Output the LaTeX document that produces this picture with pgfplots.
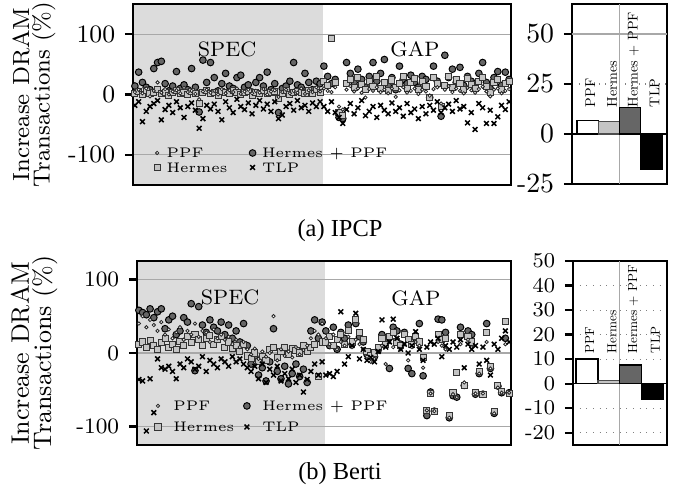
\documentclass[border=0pt]{standalone}
\usepackage{fontspec}
\newfontfamily\capfont{Liberation Serif}
\usepackage{pgfplots}
\usepackage{pgfplotstable}
\pgfplotsset{compat=1.18}

\definecolor{shade}{HTML}{DCDCDC}
\definecolor{hpfill}{HTML}{666666}
\definecolor{herfill}{HTML}{C4C4C4}
\definecolor{gridc}{HTML}{A8A8A8}

% IPCP: one row per benchmark, SPEC below x=50.3, GAP above
\pgfplotstableread{
x ppf her hp tlp
0.5 4 2 14 -18
1.5 8 5 37 -12
2.5 2 0 20 -45
3.5 10 6 12 -28
4.5 -3 1 8 -20
5.5 6 3 43 -15
6.5 20 8 53 -10
7.5 3 2 55 -42
8.5 9 4 18 -25
9.5 0 -2 6 -18
10.5 5 3 14 -30
11.5 7 6 38 -12
12.5 2 1 10 -22
13.5 11 4 16 -38
14.5 4 0 8 -20
15.5 6 5 43 -14
16.5 1 2 12 -26
17.5 -8 -15 -29 -56
18.5 5 3 57 -40
19.5 8 6 20 -18
20.5 3 2 53 -24
21.5 6 4 28 -16
22.5 0 -1 6 -28
23.5 9 5 18 -42
24.5 2 3 35 -12
25.5 7 1 14 -22
26.5 4 6 10 -30
27.5 10 4 28 -8
28.5 1 0 32 -20
29.5 5 3 12 -25
30.5 8 5 16 -14
31.5 2 -2 4 -32
32.5 6 4 20 -18
33.5 3 2 28 -10
34.5 9 6 14 -24
35.5 0 1 37 -16
36.5 5 3 8 -28
37.5 7 5 18 -12
38.5 -4 -6 -30 -40
39.5 4 2 10 -34
40.5 8 6 14 -20
41.5 2 0 22 -15
42.5 6 4 53 -26
43.5 3 5 16 -10
44.5 10 3 12 -22
45.5 1 2 35 -18
46.5 7 6 20 -28
47.5 4 1 8 -14
48.5 12 8 22 -20
49.5 5 3 18 -12
50.5 10 22 47 -20
51.5 6 15 30 -28
52.5 4 93 18 -12
53.5 12 20 25 -30
54.5 -20 -30 -38 -38
55.5 -25 -35 -40 -48
56.5 8 18 53 -25
57.5 14 25 35 -15
58.5 5 12 20 -32
59.5 10 28 42 -22
60.5 3 16 25 -10
61.5 -5 8 12 -35
62.5 9 22 30 -28
63.5 6 14 53 -20
64.5 12 30 22 -38
65.5 4 10 35 -18
66.5 8 20 58 -26
67.5 2 6 15 -32
68.5 10 24 28 -14
69.5 -4 12 8 -28
70.5 7 18 47 -22
71.5 12 30 25 -36
72.5 3 10 18 -15
73.5 6 20 32 -30
74.5 10 26 20 -24
75.5 1 8 12 -40
76.5 8 22 30 -20
77.5 5 14 25 -32
78.5 -2 -5 -5 -18
79.5 9 28 47 -26
80.5 12 18 22 -12
81.5 -15 -20 -36 -30
82.5 8 15 65 -22
83.5 14 30 28 -16
84.5 4 12 42 -28
85.5 10 24 20 -10
86.5 6 18 45 -24
87.5 2 8 15 -20
88.5 11 26 30 -47
89.5 7 16 22 -30
90.5 3 10 18 -58
91.5 9 22 35 -15
92.5 13 28 53 -22
93.5 5 14 20 -48
94.5 -3 4 10 -26
95.5 8 20 28 -48
96.5 10 25 38 -37
97.5 2 8 15 -18
98.5 6 18 37 -25
99.5 9 22 25 -12
}\ipcp

% Berti
\pgfplotstableread{
x ppf her hp tlp
0.5 40 12 58 -36
1.5 50 15 55 -38
2.5 35 8 52 -106
3.5 45 17 60 -35
4.5 38 10 48 -81
5.5 30 5 56 -8
6.5 42 14 60 -20
7.5 25 20 33 -22
8.5 32 8 45 -18
9.5 20 12 50 -25
10.5 28 5 25 -35
11.5 35 16 30 -15
12.5 18 10 48 -20
13.5 30 22 42 -8
14.5 25 14 67 -12
15.5 40 25 -24 -22
16.5 22 18 63 -18
17.5 30 10 38 -5
18.5 28 20 28 -25
19.5 15 24 45 -10
20.5 32 12 35 -15
21.5 20 18 30 -20
22.5 25 22 42 -8
23.5 18 8 25 -12
24.5 22 15 38 -18
25.5 12 6 20 -5
26.5 18 10 30 -12
27.5 8 2 15 -8
28.5 15 12 40 -15
29.5 5 -4 10 -20
30.5 -2 -8 -15 -25
31.5 6 0 -5 -18
32.5 -8 -12 -30 -35
33.5 2 -5 -20 -15
34.5 -5 -10 -38 -40
35.5 0 5 -12 -22
36.5 50 8 33 -30
37.5 -10 -6 -25 -18
38.5 5 2 -35 -38
39.5 -4 8 -18 -28
40.5 2 -2 -42 -35
41.5 -6 6 -28 -22
42.5 8 4 -15 -40
43.5 -2 0 -32 -30
44.5 4 10 -22 -53
45.5 10 2 -40 -36
46.5 20 8 30 -25
47.5 30 12 45 -15
48.5 25 -32 20 -30
49.5 40 15 42 -12
50.5 20 15 30 -30
51.5 12 22 10 -28
52.5 25 10 35 -32
53.5 5 18 5 -25
54.5 15 25 28 56
55.5 10 12 20 -15
56.5 22 30 38 -5
57.5 8 15 12 10
58.5 18 45 40 54
59.5 12 28 22 -8
60.5 5 18 15 5
61.5 -5 2 -2 -10
62.5 -12 -4 0 -6
63.5 -8 0 -5 -12
64.5 2 8 4 2
65.5 10 20 25 45
66.5 -15 12 18 8
67.5 15 22 -21 15
68.5 8 28 35 46
69.5 20 15 30 20
70.5 5 10 12 5
71.5 12 25 28 12
72.5 -10 18 -21 0
73.5 8 12 -28 10
74.5 15 22 20 29
75.5 10 15 40 5
76.5 -20 -6 -31 -10
77.5 -78 -78 -85 8
78.5 -55 -55 -53 15
79.5 -79 -80 -79 12
80.5 15 25 46 20
81.5 10 18 45 -5
82.5 5 20 28 10
83.5 -88 -85 -88 5
84.5 -56 -54 -58 15
85.5 -60 -27 -60 8
86.5 12 25 35 18
87.5 -40 -44 -44 -20
88.5 18 22 30 12
89.5 8 15 25 5
90.5 -55 -54 -56 10
91.5 -28 -25 -28 -15
92.5 -55 -56 -56 8
93.5 15 28 40 -10
94.5 -21 -18 -21 -30
95.5 -82 -80 -82 12
96.5 -47 -44 -45 5
97.5 -54 -52 -54 20
98.5 12 43 20 30
99.5 -54 -55 -54 15
}\berti

\tikzset{barlab/.style={rotate=90, scale=#1, transform shape,
    anchor=west, inner sep=0pt, font=\fontsize{10}{12}\selectfont}}

\pgfplotsset{
  ppfm/.style={only marks, mark=*, mark size=0.6pt,
    mark options={fill=white, draw=black!85, line width=0.3pt}},
  herm/.style={only marks, mark=square*, mark size=1.1pt,
    mark options={fill=herfill, draw=black!80, line width=0.35pt}},
  hpm/.style={only marks, mark=*, mark size=1.2pt,
    mark options={fill=hpfill, draw=black, line width=0.35pt}},
  tlpm/.style={only marks, mark=x, mark size=1.2pt,
    mark options={draw=black, line width=0.55pt}},
  limg/.style={legend image code/.code={
      \path[draw=none, fill=none] (0pt,0pt) (#1,0pt);
      \draw[##1] plot coordinates {(#1/2,0pt)};}},
  frame/.style={scale only axis, anchor=north west,
    axis line style={line width=0.8pt},
    tick align=outside, ytick pos=left, xtick=\empty,
    major tick length=2.9pt, tick style={line width=0.8pt, black}},
  scat/.style={frame, xmin=0, xmax=100,
    ytick={-100,0,100}, yticklabels={-100,0,100},
    ymajorgrids, major grid style={gridc, line width=0.4pt},
    axis on top, legend columns=2, legend cell align=left},
}

\begin{document}
\begin{tikzpicture}
\useasboundingbox (0,0) rectangle (244.08pt,-179.28pt);

% ---- (a) IPCP scatter
\begin{axis}[scat, limg=5pt, at={({133*0.36pt},{-4*0.36pt})},
  width=136.08pt, height=65.16pt, ymin=-150, ymax=150,
  yticklabel style={font=\fontsize{9}{9}\selectfont},
  ylabel={Increase DRAM\\Transactions (\%)},
  ylabel style={align=center, font=\fontsize{8.4}{7.4}\selectfont,
    at={(axis description cs:-0.262,0.5)}, anchor=center},
  legend style={at={(axis description cs:0,0)}, anchor=south west,
    xshift=6pt, yshift=3.5pt, draw=none, fill=none, inner sep=0pt,
    font=\fontsize{5}{5.5}\selectfont,
    nodes={inner sep=0.9pt, text depth=0pt},
    /tikz/every even column/.append style={column sep=5.6pt}}]
\addplot[fill=shade, draw=none, forget plot]
  coordinates {(0,-150) (50.3,-150) (50.3,150) (0,150)};
\addplot[hpm, forget plot] table[x=x, y=hp] {\ipcp};
\addplot[herm, forget plot] table[x=x, y=her] {\ipcp};
\addplot[ppfm, forget plot] table[x=x, y=ppf] {\ipcp};
\addplot[tlpm, forget plot] table[x=x, y=tlp] {\ipcp};
\addlegendimage{ppfm}\addlegendentry{PPF}
\addlegendimage{hpm}\addlegendentry{Hermes + PPF}
\addlegendimage{herm}\addlegendentry{Hermes}
\addlegendimage{tlpm}\addlegendentry{TLP}
\node[font=\fontsize{7.5}{8}\selectfont] at (axis cs:24.9,75) {SPEC};
\node[font=\fontsize{7.5}{8}\selectfont] at (axis cs:74.6,75) {GAP};
\end{axis}

% ---- (a) IPCP bars
\begin{axis}[frame, at={({572*0.36pt},{-4*0.36pt})},
  width=34.2pt, height=64.8pt,
  xmin=-0.738, xmax=3.738, ymin=-25, ymax=65,
  ytick={-25,0,25}, yticklabels={-25,0,25},
  extra y ticks={50}, extra y tick labels={50},
  yticklabel style={font=\fontsize{10}{10}\selectfont},
  ymajorgrids, major grid style={dotted, gray, line width=0.4pt},
  extra y tick style={major grid style={solid, gridc, line width=0.4pt}}]
\addplot[gridc, line width=0.4pt, forget plot] coordinates {(1.5,-30) (1.5,70)};
\addplot[black, line width=0.6pt, forget plot] coordinates {(-1,0) (5,0)};
\addplot[ybar, bar width=1, bar shift=0pt, fill=white, draw=black, line width=0.5pt]
  coordinates {(0,6.7)};
\addplot[ybar, bar width=1, bar shift=0pt, fill=herfill, draw=black!70, line width=0.5pt]
  coordinates {(1,6.2)};
\addplot[ybar, bar width=1, bar shift=0pt, fill=hpfill, draw=black, line width=0.5pt]
  coordinates {(2,13.3)};
\addplot[ybar, bar width=1, bar shift=0pt, fill=black, draw=black, line width=0.5pt]
  coordinates {(3,-17.5)};
\node[barlab=0.51] at (axis cs:0.12,13.3) {PPF};
\node[barlab=0.51] at (axis cs:1.15,13.3) {Hermes};
\node[barlab=0.51] at (axis cs:2.15,13.3) {Hermes + PPF};
\node[barlab=0.51] at (axis cs:3.15,13.3) {TLP};
\end{axis}

\node[font=\capfont\fontsize{8.8}{10}\selectfont] at ({340*0.36pt},{-231*0.36pt}) {(a) IPCP};

% ---- (b) Berti scatter
\begin{axis}[scat, limg=6.9pt, at={({137*0.36pt},{-261*0.36pt})},
  width=134.64pt, height=66.24pt, ymin=-125, ymax=125,
  yticklabel style={font=\fontsize{7.9}{8}\selectfont},
  ylabel={Increase DRAM\\Transactions (\%)},
  ylabel style={align=center, font=\fontsize{9.1}{8}\selectfont,
    at={(axis description cs:-0.275,0.5)}, anchor=center},
  legend style={at={(axis description cs:0,0)}, anchor=south west,
    xshift=3.9pt, yshift=2.5pt, draw=none, fill=none, inner sep=0pt,
    font=\fontsize{5}{5.5}\selectfont,
    nodes={inner sep=2.08pt, text depth=0pt},
    /tikz/every even column/.append style={column sep=-1pt}}]
\addplot[fill=shade, draw=none, forget plot]
  coordinates {(0,-125) (50.3,-125) (50.3,125) (0,125)};
\addplot[hpm, forget plot] table[x=x, y=hp] {\berti};
\addplot[herm, forget plot] table[x=x, y=her] {\berti};
\addplot[ppfm, forget plot] table[x=x, y=ppf] {\berti};
\addplot[tlpm, forget plot] table[x=x, y=tlp] {\berti};
\addlegendimage{ppfm}\addlegendentry{PPF}
\addlegendimage{hpm}\addlegendentry{Hermes + PPF}
\addlegendimage{herm}\addlegendentry{Hermes}
\addlegendimage{tlpm}\addlegendentry{TLP}
\node[font=\fontsize{7.5}{8}\selectfont] at (axis cs:24.9,75) {SPEC};
\node[font=\fontsize{7.5}{8}\selectfont] at (axis cs:74.6,75) {GAP};
\end{axis}

% ---- (b) Berti bars
\begin{axis}[frame, at={({573*0.36pt},{-261*0.36pt})},
  width=33.84pt, height=66.24pt,
  xmin=-0.64, xmax=3.68, ymin=-25, ymax=50,
  ytick={-20,-10,0,10,20,30,40,50},
  yticklabels={-20,-10,0,10,20,30,40,50},
  yticklabel style={font=\fontsize{7.6}{8}\selectfont},
  ymajorgrids, major grid style={dotted, gray, line width=0.4pt}]
\addplot[gridc, line width=0.4pt, forget plot] coordinates {(1.5,-30) (1.5,60)};
\addplot[black, line width=0.6pt, forget plot] coordinates {(-1,0) (5,0)};
\addplot[ybar, bar width=1, bar shift=0pt, fill=white, draw=black, line width=0.5pt]
  coordinates {(0,10)};
\addplot[ybar, bar width=1, bar shift=0pt, fill=herfill, draw=black!70, line width=0.5pt]
  coordinates {(1,1.2)};
\addplot[ybar, bar width=1, bar shift=0pt, fill=hpfill, draw=black, line width=0.5pt]
  coordinates {(2,7.6)};
\addplot[ybar, bar width=1, bar shift=0pt, fill=black, draw=black, line width=0.5pt]
  coordinates {(3,-6.4)};
\node[barlab=0.475] at (axis cs:0.12,12.2) {PPF};
\node[barlab=0.475] at (axis cs:1.15,12.2) {Hermes};
\node[barlab=0.475] at (axis cs:2.12,12.2) {Hermes + PPF};
\node[barlab=0.475] at (axis cs:3.15,12.2) {TLP};
\end{axis}

\node[font=\capfont\fontsize{8.8}{10}\selectfont] at ({340*0.36pt},{-474*0.36pt}) {(b) Berti};
\end{tikzpicture}
\end{document}
